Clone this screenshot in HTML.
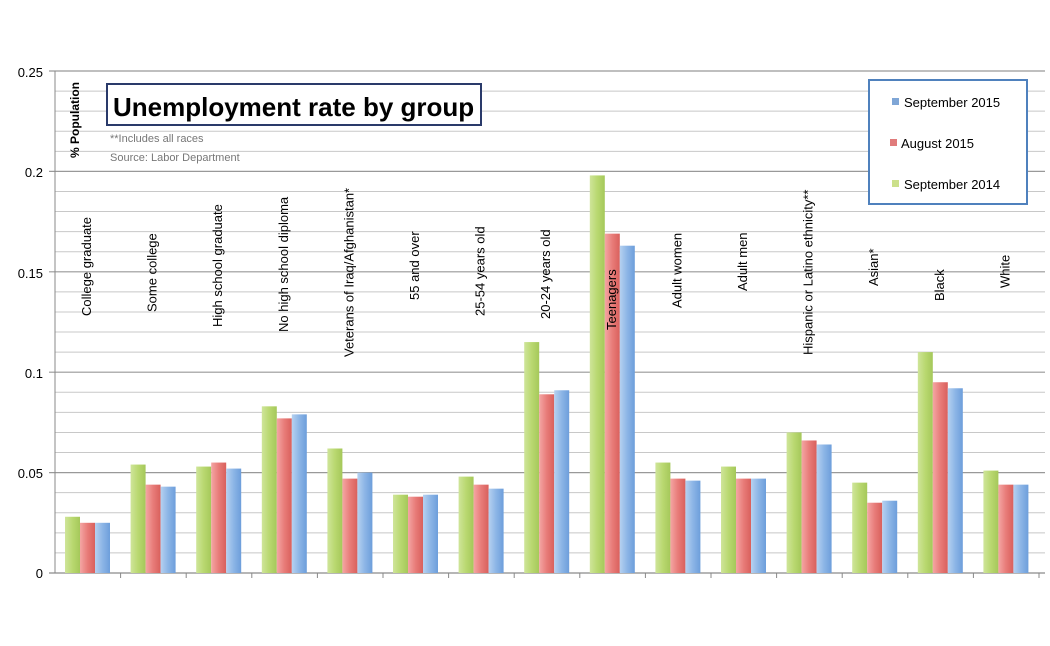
<!DOCTYPE html>
<html><head><meta charset="utf-8"><style>body{margin:0;background:#fff}</style></head><body>
<svg width="1050" height="641" xmlns="http://www.w3.org/2000/svg" font-family="Liberation Sans, sans-serif">
<defs>
<linearGradient id="g" x1="0" x2="1"><stop offset="0" stop-color="#cfe59a"/><stop offset="0.5" stop-color="#b9d870"/><stop offset="1" stop-color="#a5c85a"/></linearGradient>
<linearGradient id="r" x1="0" x2="1"><stop offset="0" stop-color="#f4a6a4"/><stop offset="0.5" stop-color="#e87c79"/><stop offset="1" stop-color="#d9605c"/></linearGradient>
<linearGradient id="b" x1="0" x2="1"><stop offset="0" stop-color="#b6d1f0"/><stop offset="0.5" stop-color="#8cb5e6"/><stop offset="1" stop-color="#6d9edb"/></linearGradient>
</defs>
<g id="grid"></g>
<g id="bars"></g>
<g id="labels" font-size="13" fill="#000"></g>
<line x1="55" y1="71" x2="55" y2="573" stroke="#888"/>
<g font-size="13" text-anchor="end" fill="#000">
<text x="43" y="77">0.25</text><text x="43" y="177">0.2</text><text x="43" y="278">0.15</text><text x="43" y="378">0.1</text><text x="43" y="478">0.05</text><text x="43" y="578">0</text>
</g>
<text transform="translate(79,158) rotate(-90)" font-size="12" font-weight="bold">% Population</text>
<rect x="107" y="84" width="374" height="41" fill="#fff" stroke="#2a3a6a" stroke-width="2"/>
<text x="113" y="116" font-size="26" font-weight="bold">Unemployment rate by group</text>
<text x="110" y="142" font-size="11" fill="#777">**Includes all races</text>
<text x="110" y="161" font-size="11" fill="#777">Source: Labor Department</text>
<rect x="869" y="80" width="158" height="124" fill="#fff" stroke="#4f81bd" stroke-width="2"/>
<rect x="892" y="98" width="7" height="7" fill="#7fa6d6"/><text x="904" y="107" font-size="13">September 2015</text>
<rect x="890" y="139" width="7" height="7" fill="#e07b7b"/><text x="901" y="148" font-size="13">August 2015</text>
<rect x="892" y="180" width="7" height="7" fill="#cbe08a"/><text x="904" y="189" font-size="13">September 2014</text>
<script>
var ns="http://www.w3.org/2000/svg";
function el(p,t,a,txt){var e=document.createElementNS(ns,t);for(var k in a)e.setAttribute(k,a[k]);if(txt)e.textContent=txt;document.getElementById(p).appendChild(e);}
for(var i=0;i<=25;i++){var y=573-i*20.08;var maj=i%5==0;el("grid","line",{x1:maj?49:55,y1:y,x2:1045,y2:y,stroke:maj?"#999":"#c8c8c8","stroke-width":maj?1.2:1});}
var d=[[.028,.025,.025],[.054,.044,.043],[.053,.055,.052],[.083,.077,.079],[.062,.047,.05],[.039,.038,.039],[.048,.044,.042],[.115,.089,.091],[.198,.169,.163],[.055,.047,.046],[.053,.047,.047],[.07,.066,.064],[.045,.035,.036],[.11,.095,.092],[.051,.044,.044]];
var L=[["College graduate",316],["Some college",312],["High school graduate",327],["No high school diploma",332],["Veterans of Iraq/Afghanistan*",357],["55 and over",300],["25-54 years old",316],["20-24 years old",319],["Teenagers",330],["Adult women",308],["Adult men",291],["Hispanic or Latino ethnicity**",355],["Asian*",286],["Black",301],["White",288]];
var W=65.6;
for(var g=0;g<15;g++){var x0=55+g*W;el("grid","line",{x1:x0+W,y1:573,x2:x0+W,y2:578,stroke:"#888"});
var c=["url(#g)","url(#r)","url(#b)"];
for(var s=0;s<3;s++){var h=d[g][s]*2008;el("bars","rect",{x:x0+10+s*15,y:573-h,width:15,height:h,fill:c[s]});}
var lx=x0+40;el("labels","text",{transform:"translate("+(lx-4)+","+L[g][1]+") rotate(-90)"},L[g][0]);}
el("grid","line",{x1:49,y1:573,x2:1045,y2:573,stroke:"#888"});
</script>
</svg>
</body></html>
